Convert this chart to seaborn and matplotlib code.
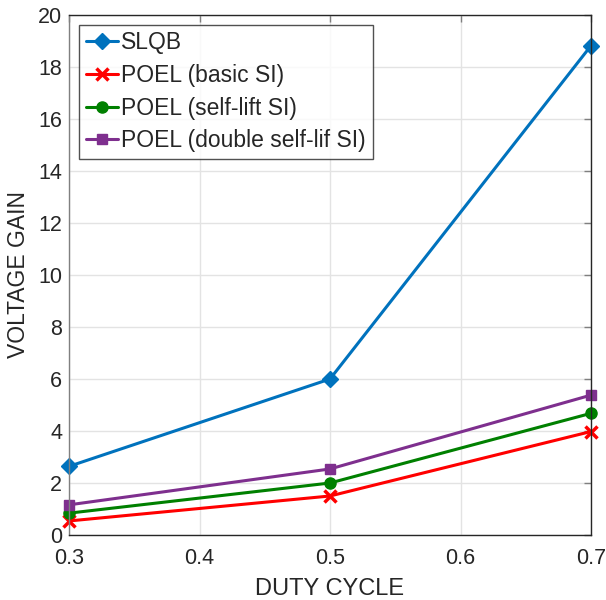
import matplotlib
matplotlib.use("Agg")
import matplotlib.pyplot as plt
import seaborn as sns
import pandas as pd

duty = [0.3, 0.5, 0.7]
slqb = [2.64, 6.0, 18.82]
basic = [0.54, 1.5, 3.98]
selflift = [0.84, 2.0, 4.68]
double = [1.16, 2.54, 5.38]
names = ["SLQB", "POEL (basic SI)", "POEL (self-lift SI)", "POEL (double self-lif SI)"]
colors = ["#0072BD", "#FF0000", "#008000", "#7E2F8E"]
markers = ["D", "x", "o", "s"]
msizes = [8, 8, 8, 7.5]
xticks = [0.3, 0.4, 0.5, 0.6, 0.7]
xticklabels = ["0.3", "0.4", "0.5", "0.6", "0.7"]

sns.set_style("white")
plt.rcParams['font.family'] = ['Liberation Sans', 'DejaVu Sans']

rows = []
for n, vals in zip(names, [slqb, basic, selflift, double]):
    for d, v in zip(duty, vals):
        rows.append({"duty": d, "gain": v, "series": n})
df = pd.DataFrame(rows)

fig = plt.figure(figsize=(6.06, 6.0), dpi=100)
ax = fig.add_axes([69/606, 65/600, 522/606, 520/600])
for n, c, m, ms in zip(names, colors, markers, msizes):
    sub = df[df.series == n]
    sns.lineplot(data=sub, x="duty", y="gain", ax=ax, color=c, marker=m,
                 markersize=ms, linewidth=2.2, label=n,
                 markeredgecolor=c, markeredgewidth=2.5 if m == "x" else 1,
                 clip_on=False)

ax.set_xlim(0.3, 0.7)
ax.set_ylim(0, 20)
ax.set_xticks(xticks)
ax.set_xticklabels(xticklabels)
ax.set_yticks(range(0, 21, 2))
ax.grid(True, color="#e3e3e3", linewidth=1)
ax.set_axisbelow(True)
ax.tick_params(direction="in", length=5, width=1, colors="#7f7f7f",
               labelcolor="#262626", labelsize=15.5, top=True, right=True)
ax.tick_params(axis="x", pad=9.3)
ax.tick_params(axis="y", pad=5)
ax.set_xlabel("DUTY CYCLE", fontsize=17, color="#262626", labelpad=6.5)
ax.set_ylabel("VOLTAGE GAIN", fontsize=16.5, color="#262626", labelpad=6)
for s in ["top", "right", "bottom"]:
    ax.spines[s].set_color("#262626")
ax.spines["left"].set_color("#808080")
for s in ax.spines.values():
    s.set_linewidth(1)

leg = ax.legend(loc="upper left", fontsize=16.5, frameon=True, fancybox=False,
                edgecolor="#262626", borderaxespad=0.42, handlelength=1.4,
                handletextpad=0.15, borderpad=0.3, labelspacing=0.42)
leg.get_frame().set_linewidth(1)

fig.savefig("out.png", dpi=100)
